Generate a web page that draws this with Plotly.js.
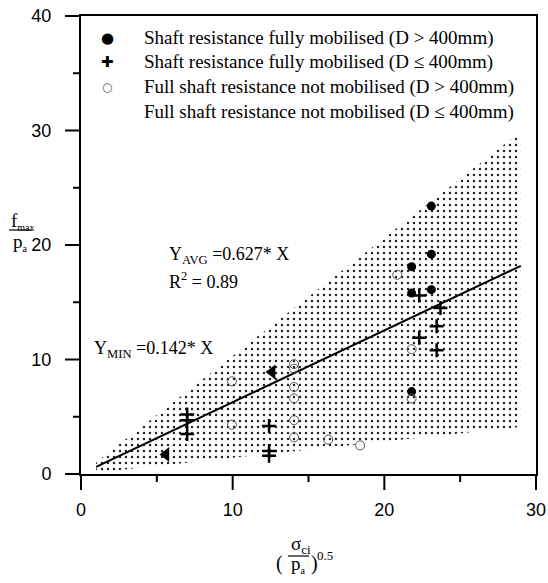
<!DOCTYPE html>
<html>
<head>
<meta charset="utf-8">
<script src="https://cdn.plot.ly/plotly-3.0.1.min.js"></script>
<style>html,body{margin:0;padding:0;background:#fff;}#chart{width:548px;height:583px;}</style>
</head>
<body>
<div id="chart"></div>
<script>
// ---- data ----
const fullLargeX = [23.1, 23.1, 21.8, 21.8, 23.1, 21.8];
const fullLargeY = [23.4, 19.2, 18.1, 15.8, 16.1, 7.2];

const fullSmallX = [22.3, 23.7, 23.45, 22.3, 23.45, 7.0, 7.0, 7.0, 12.4, 12.4, 12.4];
const fullSmallY = [15.6, 14.5, 12.9, 11.9, 10.8, 5.2, 4.7, 3.5, 4.2, 2.0, 1.6];

const notLargeX = [9.95, 9.95, 14.05, 14.05, 14.05, 14.05, 14.05, 14.05, 16.3, 18.4, 20.85, 21.8, 21.8];
const notLargeY = [8.1, 4.3, 9.6, 9.2, 7.6, 6.6, 4.7, 3.2, 3.0, 2.5, 17.4, 10.9, 6.6];

const notSmallX = [5.6, 12.6];
const notSmallY = [1.7, 8.9];

const bandX = [1, 29, 29, 1, 1];
const bandY = [0.14, 4.12, 29.9, 1.03, 0.14];

const avgX = [1, 29];
const avgY = [0.63, 18.18];

const xRange = [0, 30];
const yRange = [0, 40];
const xMajorTicks = [0, 10, 20, 30];
const xMinorTicks = [5, 15, 25];
const yMajorTicks = [0, 10, 20, 30, 40];
const yMinorTicks = [5, 15, 25, 35];

const legendNames = [
  'Shaft resistance fully mobilised (D > 400mm)',
  'Shaft resistance fully mobilised (D \u2264 400mm)',
  'Full shaft resistance not mobilised (D > 400mm)',
  'Full shaft resistance not mobilised (D \u2264 400mm)'
];
const legendSymbols = ['\u25CF', '\u271A', '\u25CB', ''];

// ---- helpers for pixel placement of titles ----
const L = 81, R = 536, T = 16, B = 474;
const W = R - L, H = B - T;
const px = p => (p - L) / W;
const py = p => (B - p) / H;
const xFrac = v => (v - xRange[0]) / (xRange[1] - xRange[0]);
const yFrac = v => (v - yRange[0]) / (yRange[1] - yRange[0]);
const serif = 'Liberation Serif, Times New Roman, serif';
const sans = 'Liberation Sans, Arial, sans-serif';

const traces = [
  {x: bandX, y: bandY, mode: 'lines', fill: 'toself', line: {width: 0, color: 'rgba(0,0,0,0)'},
   fillcolor: 'rgba(255,255,255,0)',
   fillpattern: {shape: '.', size: 6, solidity: 0.13, fgcolor: '#222', fgopacity: 1},
   showlegend: false, hoverinfo: 'skip'},
  {x: avgX, y: avgY, mode: 'lines', line: {color: '#000', width: 2}, showlegend: false},
  {x: fullLargeX, y: fullLargeY, mode: 'markers', name: legendNames[0], showlegend: false,
   marker: {symbol: 'circle', size: 9, color: '#000'}},
  {x: fullSmallX, y: fullSmallY, mode: 'markers', name: legendNames[1], showlegend: false,
   marker: {symbol: 'cross-thin', size: 10, color: '#000', line: {width: 2.5, color: '#000'}}},
  {x: notLargeX, y: notLargeY, mode: 'markers', name: legendNames[2], showlegend: false,
   marker: {symbol: 'circle-open', size: 9, color: '#555', line: {width: 1, color: '#555'}}},
  {x: notSmallX, y: notSmallY, mode: 'markers', name: legendNames[3], showlegend: false,
   marker: {symbol: 'triangle-left', size: 13, color: '#000'}}
];

const axisCommon = {
  showgrid: false, zeroline: false, showline: true, linewidth: 2, linecolor: 'black', mirror: true,
  ticks: 'outside', tickwidth: 2, tickcolor: 'rgba(0,0,0,0)', tickmode: 'array',
  tickfont: {family: sans, size: 18, color: '#000'}
};

// tick marks drawn as thin filled rectangles at the axis positions of the tick values
const tickShapes = [];
const addX = (v, len) => tickShapes.push({type: 'rect', xref: 'paper', yref: 'paper', layer: 'above',
  x0: xFrac(v) - 1 / W, x1: xFrac(v) + 1 / W, y0: 0, y1: -len / H,
  fillcolor: '#000', line: {width: 0}});
const addY = (v, len) => tickShapes.push({type: 'rect', xref: 'paper', yref: 'paper', layer: 'above',
  y0: yFrac(v) - 1 / H, y1: yFrac(v) + 1 / H, x0: 0, x1: -len / W,
  fillcolor: '#000', line: {width: 0}});
xMajorTicks.forEach(v => addX(v, 16));
xMinorTicks.forEach(v => addX(v, 8));
yMajorTicks.forEach(v => addY(v, 16));
yMinorTicks.forEach(v => addY(v, 8));

// legend as text rows
const rowY = [38, 62, 87, 112];
const legendAnn = [];
legendNames.forEach((n, i) => {
  legendAnn.push({x: px(142), y: py(rowY[i]), xref: 'paper', yref: 'paper', xanchor: 'left', yanchor: 'middle',
    showarrow: false, text: n, font: {family: serif, size: 19, color: '#000'}});
  if (legendSymbols[i]) {
    legendAnn.push({x: px(107), y: py(rowY[i]), xref: 'paper', yref: 'paper', xanchor: 'center', yanchor: 'middle',
      showarrow: false, text: legendSymbols[i],
      font: {family: 'DejaVu Sans, sans-serif', size: i === 2 ? 12 : 15, color: i === 2 ? '#555' : '#000'}});
  }
});

const layout = {
  width: 548, height: 583,
  margin: {l: L, r: 548 - R, t: T, b: 583 - B},
  paper_bgcolor: '#fff', plot_bgcolor: '#fff',
  showlegend: false,
  xaxis: Object.assign({}, axisCommon, {range: xRange, ticklen: 18,
    tickvals: xMajorTicks, ticktext: xMajorTicks.map(String)}),
  yaxis: Object.assign({}, axisCommon, {range: yRange, ticklen: 24,
    tickvals: yMajorTicks, ticktext: yMajorTicks.map(String)}),
  annotations: [
    {x: 5.65, y: 19.1, xref: 'x', yref: 'y', xanchor: 'left', yanchor: 'middle', showarrow: false,
     text: 'Y<sub>AVG</sub> =0.627* X', font: {family: serif, size: 18, color: '#000'}},
    {x: 5.65, y: 16.9, xref: 'x', yref: 'y', xanchor: 'left', yanchor: 'middle', showarrow: false,
     text: 'R<sup>2</sup> = 0.89', font: {family: serif, size: 18, color: '#000'}},
    {x: 0.7, y: 10.9, xref: 'x', yref: 'y', xanchor: 'left', yanchor: 'middle', showarrow: false,
     text: 'Y<sub>MIN</sub> =0.142* X', font: {family: serif, size: 18, color: '#000'}},
    // y-axis title fraction
    {x: px(9), y: py(221), xref: 'paper', yref: 'paper', xanchor: 'left', yanchor: 'middle', showarrow: false,
     text: 'f<sub><span style="font-size:10px">max</span></sub>', font: {family: serif, size: 19, color: '#000'}},
    {x: px(11), y: py(242), xref: 'paper', yref: 'paper', xanchor: 'left', yanchor: 'middle', showarrow: false,
     text: 'p<sub><span style="font-size:10px">a</span></sub>', font: {family: serif, size: 19, color: '#000'}},
    // x-axis title fraction
    {x: px(289), y: py(545), xref: 'paper', yref: 'paper', xanchor: 'left', yanchor: 'middle', showarrow: false,
     text: '\u03c3<sub><span style="font-size:13px">ci</span></sub>', font: {family: serif, size: 19, color: '#000'}},
    {x: px(289), y: py(564), xref: 'paper', yref: 'paper', xanchor: 'left', yanchor: 'middle', showarrow: false,
     text: 'p<sub><span style="font-size:10px">a</span></sub>', font: {family: serif, size: 19, color: '#000'}},
    {x: px(285), y: py(563), xref: 'paper', yref: 'paper', xanchor: 'right', yanchor: 'middle', showarrow: false,
     text: '(', font: {family: serif, size: 20, color: '#000'}},
    {x: px(309), y: py(563), xref: 'paper', yref: 'paper', xanchor: 'left', yanchor: 'middle', showarrow: false,
     text: ')', font: {family: serif, size: 20, color: '#000'}},
    {x: px(315), y: py(555), xref: 'paper', yref: 'paper', xanchor: 'left', yanchor: 'middle', showarrow: false,
     text: '0.5', font: {family: serif, size: 13, color: '#000'}}
  ].concat(legendAnn),
  shapes: [
    {type: 'line', xref: 'paper', yref: 'paper', x0: px(9), x1: px(32), y0: py(230), y1: py(230),
     line: {color: '#000', width: 1.2}},
    {type: 'line', xref: 'paper', yref: 'paper', x0: px(288), x1: px(309), y0: py(556), y1: py(556),
     line: {color: '#000', width: 1.2}}
  ].concat(tickShapes)
};

Plotly.newPlot('chart', traces, layout, {displayModeBar: false});
</script>
</body>
</html>
